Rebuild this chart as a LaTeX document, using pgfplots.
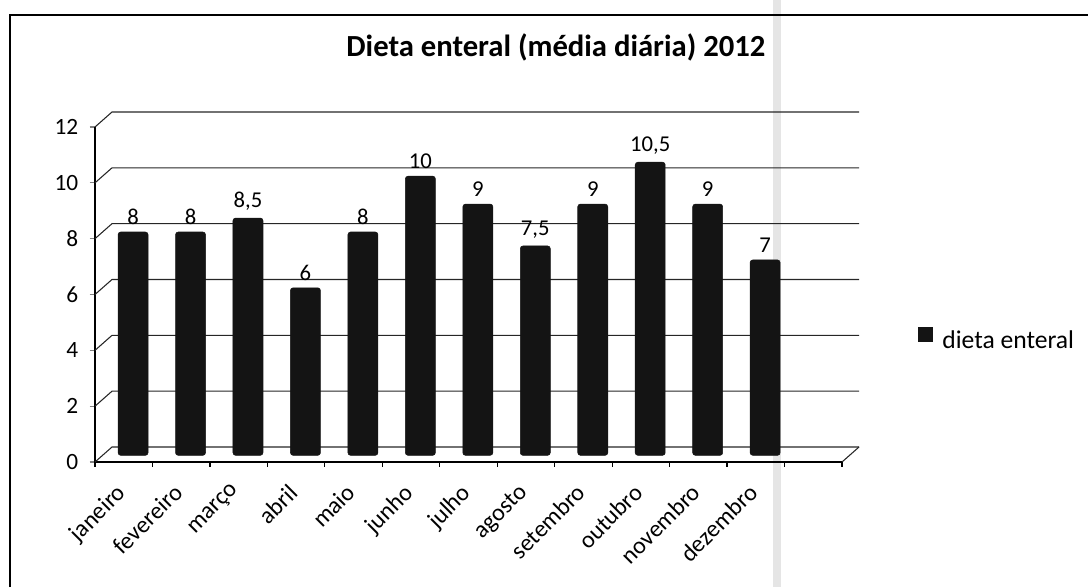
\documentclass[border=0pt]{standalone}
\usepackage{pgfplots}
\pgfplotsset{compat=1.18}
\usepackage{fontspec}
\setmainfont{Carlito}
\definecolor{barc}{HTML}{141414}
\pgfplotstableread{
x y
0 8
1 8
2 8.5
3 6
4 8
5 10
6 9
7 7.5
8 9
9 10.5
10 9
11 7
}\datatable
\begin{document}
\begin{tikzpicture}
\path[use as bounding box] (0pt,0pt) rectangle (816pt,440.25pt);
\fill[black!10] (579.75pt,0pt) rectangle (585.75pt,440.25pt);
\draw[black,line width=0.9pt] (7.5pt,0pt) -- (7.5pt,429pt) -- (816pt,429pt);
\begin{axis}[
  at={(71.25pt,93.75pt)}, anchor=south west,
  scale only axis, width=560.25pt, height=251.25pt,
  xmin=-0.5, xmax=12.5, ymin=0, ymax=12,
  ytick={0,2,...,12},
  xtick={0,...,11},
  xticklabels={janeiro,fevereiro,março,abril,maio,junho,julho,agosto,setembro,outubro,novembro,dezembro},
  x tick label style={rotate=45, anchor=north east, font=\fontsize{18}{18}\selectfont, inner sep=1pt, xshift=-11.4pt, yshift=-2.4pt},
  y tick label style={font=\fontsize{17.5}{17.5}\selectfont, xshift=-5pt},
  /pgf/number format/assume math mode=true,
  /pgf/number format/use comma,
  axis x line*=bottom, axis y line*=left,
  x axis line style={-, line width=0.9pt}, y axis line style={-, line width=0.9pt},
  tick align=outside, major tick length=4pt,
  xtick style={draw=none},
  ytick style={line width=0.9pt},
  title={\bfseries Dieta enteral (média diária) 2012},
  title style={at={(0.617,1.215)}, anchor=center, font=\fontsize{23}{25}\selectfont},
  legend style={at={(1.102,0.364)}, anchor=west, draw=none, fill=none, font=\fontsize{19.2}{19.2}\selectfont, inner sep=0pt,
    /tikz/every odd column/.append style={column sep=5pt}},
  legend image code/.code={\fill[barc, sharp corners] (0pt,-5.25pt) rectangle (10.5pt,5.25pt);},
  clip=false,
]
\foreach \yy in {0,2,...,12} {
  \edef\tmp{\noexpand\draw[black!85,line width=0.8pt] (axis cs:-0.5,\yy) -- ([xshift=12.75pt,yshift=11.25pt]axis cs:-0.5,\yy) -- ([xshift=12.75pt,yshift=11.25pt]axis cs:12.5,\yy);}
  \tmp
}
\draw[black!85,line width=0.8pt] (axis cs:12.5,0) -- ([xshift=12.75pt,yshift=11.25pt]axis cs:12.5,0);
\foreach \xx in {-0.5,0.5,...,12.5} {
  \edef\tmp{\noexpand\draw[black,line width=0.9pt] (axis cs:\xx,0) -- ([yshift=-4pt]axis cs:\xx,0);}
  \tmp
}
\addplot[ybar, bar width=22.5pt, fill=barc, draw=barc, rounded corners=2pt, xshift=7pt, yshift=5pt,
  nodes near coords, nodes near coords style={font=\fontsize{17}{17}\selectfont, text=black, /pgf/number format/use comma, /pgf/number format/assume math mode=true, yshift=2pt}]
  table[x=x,y=y]{\datatable};
\addlegendentry{dieta enteral}
\end{axis}
\end{tikzpicture}
\end{document}
